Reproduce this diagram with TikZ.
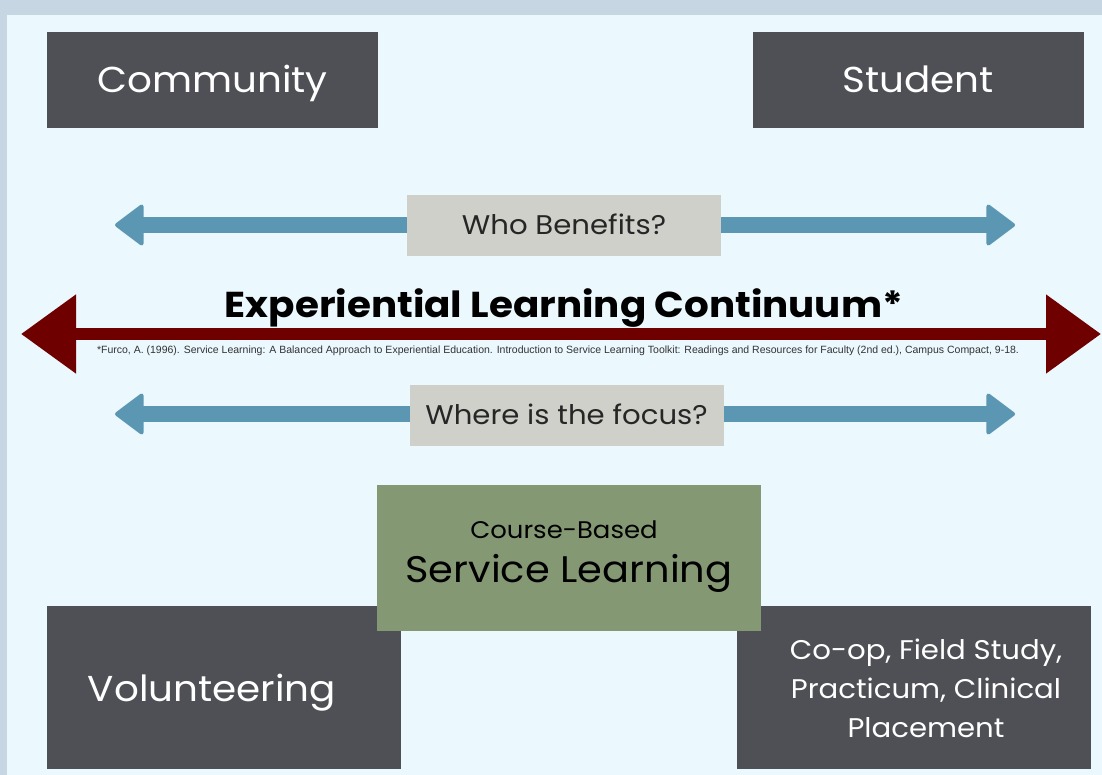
\documentclass[tikz,border=0pt]{standalone}
\usepackage{fontspec}
\setmainfont[FakeStretch=1.08]{Poppins}
\newfontfamily\citefont{Liberation Sans}
\usetikzlibrary{arrows.meta}

\definecolor{pagebg}{HTML}{C6D6E2}
\definecolor{panelbg}{HTML}{EBF8FD}
\definecolor{darkbox}{HTML}{4F5055}
\definecolor{greybox}{HTML}{D0D0CB}
\definecolor{arrowblue}{HTML}{5B96B2}
\definecolor{maroon}{HTML}{6E0000}
\definecolor{sage}{HTML}{859874}

\begin{document}
\begin{tikzpicture}[x=1pt, y=-1pt,
            darkbox/.style={rectangle, fill=darkbox, text=white, inner sep=0pt, minimum width=331pt, minimum height=96pt, text height=25pt, text depth=0pt, font=\fontsize{36}{40}\selectfont},
            askbox/.style={rectangle, fill=greybox, text=black!85, inner sep=0pt, minimum width=314pt, minimum height=61pt, text height=19pt, text depth=0pt, font=\fontsize{27}{30}\selectfont},
            bigbox/.style={rectangle, fill=darkbox, inner sep=0pt, minimum width=354pt, minimum height=163pt},
            boxtext/.style={text=white, align=center, inner sep=0pt},
            bluearrow/.style={draw=arrowblue, line width=16pt, {Triangle[length=30pt, width=44pt, round, line width=4pt]}-{Triangle[length=30pt, width=44pt, round, line width=4pt]}},
            redarrow/.style={draw=maroon, line width=12pt, {Triangle[length=55pt, width=76pt]}-{Triangle[length=55pt, width=76pt]}},
        ]
            % page and panel
            \fill[pagebg] (0,0) rectangle (1102,775);
            \fill[panelbg] (7,15) rectangle (1102,775);
            \useasboundingbox (0,0) rectangle (1102,775);

            % top labels
            \node[darkbox](community) at (212.5,80) {Community};
            \node[darkbox](student) at (918,80) {Student};

            % arrow ends
            \coordinate (benefitsL) at (115,225);
            \coordinate (benefitsR) at (1015,225);
            \coordinate (focusL) at (115,414);
            \coordinate (focusR) at (1015,414);
            \coordinate (contL) at (21,334);
            \coordinate (contR) at (1101,334);

            \draw[bluearrow] (benefitsL) -- (benefitsR);
            \draw[bluearrow] (focusL) -- (focusR);
            \draw[redarrow] (contL) -- (contR);

            \node[askbox](benefits) at (564,225.5) {Who Benefits?};
            \node[askbox](focus) at (566.5,415) {Where is the focus?};

            \node[anchor=base, font=\fontsize{36}{40}\bfseries\selectfont](title) at (564,318) {Experiential Learning Continuum*};
            \node[anchor=base, text=black!80, font=\citefont\fontsize{10.5}{12}\selectfont](cite) at (558,353) {*Furco, A. (1996). Service Learning: A Balanced Approach to Experiential Education. Introduction to Service Learning Toolkit: Readings and Resources for Faculty (2nd ed.), Campus Compact, 9-18.};

            % bottom row
            \node[bigbox](volunteer) at (224,687.5) {};
            \node[boxtext, anchor=base, font=\fontsize{36}{40}\selectfont](voltext) at (212,701) {Volunteering};
            \node[bigbox](coop) at (914,687.5) {};
            \node[boxtext, font=\fontsize{27}{39}\selectfont](cooptext) at (926,688) {Co-op, Field Study,\\Practicum, Clinical\\Placement};

            \node[rectangle, fill=sage, minimum width=384pt, minimum height=146pt](servlearn) at (569,558) {};
            \node[anchor=base, inner sep=0pt, font=\fontsize{24}{28}\selectfont](coursetext) at (564,538) {Course-Based};
            \node[anchor=base, inner sep=0pt, font=\fontsize{37}{40}\selectfont](servtext) at (569,582) {Service Learning};
        \end{tikzpicture}
\end{document}
